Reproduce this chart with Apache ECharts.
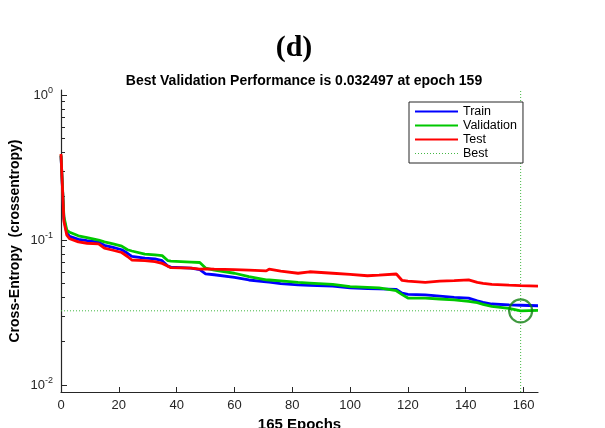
<!DOCTYPE html>
<html>
<head>
<meta charset="utf-8">
<script src="https://cdn.jsdelivr.net/npm/echarts@6/dist/echarts.min.js"></script>
<style>html,body{margin:0;padding:0;background:#fff;}#c{width:605px;height:428px;}</style>
</head>
<body>
<div id="c"></div>
<script>
const epochs = [0,1,2,3,6,9,13,15,18,21,23,24.5,29,32.5,35,37,38,45,48,50,53,60,65,71,72,76,82,86,94,100,106,110,116,118,120,126,131,136,141,144,146,149,155,159,165];
const train = [0.38,0.14,0.112,0.106,0.101,0.099,0.0966,0.092,0.089,0.0857,0.081,0.077,0.075,0.0742,0.072,0.066,0.065,0.064,0.0624,0.0584,0.0576,0.0553,0.053,0.0515,0.0512,0.050,0.049,0.0487,0.0481,0.0468,0.0463,0.046,0.0456,0.043,0.0422,0.0418,0.041,0.0402,0.0397,0.038,0.0371,0.0362,0.0357,0.0355,0.0352];
const validation = [0.385,0.145,0.117,0.113,0.107,0.104,0.100,0.097,0.094,0.0907,0.0857,0.084,0.080,0.079,0.078,0.072,0.0715,0.0705,0.070,0.064,0.062,0.059,0.056,0.0531,0.053,0.0522,0.051,0.0505,0.0495,0.0477,0.0472,0.0468,0.0447,0.042,0.0398,0.0397,0.0392,0.0387,0.0378,0.037,0.036,0.0349,0.0338,0.0325,0.0327];
const test = [0.392,0.135,0.108,0.102,0.097,0.095,0.094,0.088,0.085,0.082,0.077,0.0728,0.072,0.071,0.069,0.066,0.0645,0.064,0.063,0.0633,0.063,0.0625,0.062,0.0612,0.063,0.061,0.059,0.0604,0.059,0.0579,0.0567,0.0573,0.0583,0.0526,0.052,0.0511,0.052,0.0525,0.0531,0.051,0.0503,0.0495,0.0488,0.0484,0.0481];
const bestEpoch = 159;
const bestPerf = 0.032497;
const xTicks = [0,20,40,60,80,100,120,140,160];
const yMajor = [0.01,0.1,1];
const yMinor = [0.02,0.03,0.04,0.05,0.06,0.07,0.08,0.09,0.2,0.3,0.4,0.5,0.6,0.7,0.8,0.9];
const yMin = 0.00895, yMax = 1.083;
const xMax = 165;

const pairs = arr => epochs.map((e,i)=>[e,arr[i]]);
const FONT = 'Liberation Sans';
const AX = '#262626';
const BEST = '#45b845';
const bestLine = {color:BEST, width:1, type:[1,2]};
const bestGuides = [[0,bestPerf],[xMax,bestPerf],'-',[bestEpoch,yMin],[bestEpoch,yMax]];

const chart = echarts.init(document.getElementById('c'), null, {renderer:'canvas'});
chart.setOption({
  animation:false,
  backgroundColor:'#fff',
  title:[
    {text:'(d)', left:289, top:28, textAlign:'center',
     textStyle:{fontFamily:'Liberation Serif', fontWeight:'bold', fontSize:30, color:'#000'}},
    {text:'Best Validation Performance is 0.032497 at epoch 159', left:299, top:69, textAlign:'center',
     textStyle:{fontFamily:FONT, fontWeight:'bold', fontSize:14, color:'#000'}}
  ],
  grid:{left:61, right:67, top:90, bottom:36, containLabel:false, outerBoundsMode:'none'},
  legend:{
    data:['Train','Validation','Test',{name:'Best', itemStyle:{opacity:0}, lineStyle:bestLine}],
    orient:'vertical', left:409, top:102,
    backgroundColor:'#fff', borderColor:'#262626', borderWidth:1,
    padding:[3,6,3,5], itemWidth:43, itemHeight:10, itemGap:1,
    itemStyle:{opacity:0},
    textStyle:{fontFamily:FONT, fontSize:12.5, color:'#000'},
    selectedMode:false
  },
  xAxis:{
    type:'value', min:0, max:xMax, interval:20,
    name:'165 Epochs', nameLocation:'middle', nameGap:24,
    nameTextStyle:{fontFamily:FONT, fontWeight:'bold', fontSize:15, color:'#000'},
    axisLine:{lineStyle:{color:AX, width:1.2}},
    axisTick:{inside:true, length:5, lineStyle:{color:AX}, customValues:xTicks},
    axisLabel:{fontFamily:FONT, fontSize:13, color:AX, margin:7, customValues:xTicks},
    splitLine:{show:false}
  },
  yAxis:[{
    type:'log', logBase:10, min:yMin, max:yMax,
    name:'Cross-Entropy  (crossentropy)', nameLocation:'middle', nameGap:39, nameRotate:90,
    nameMoveOverlap:false,
    nameTextStyle:{fontFamily:FONT, fontWeight:'bold', fontSize:14, color:'#000'},
    axisLine:{lineStyle:{color:AX, width:1.2}},
    axisTick:{inside:true, length:6, lineStyle:{color:AX}, customValues:yMajor},
    axisLabel:{customValues:yMajor, margin:8,
      formatter:v=>'{b|10}{s|'+Math.round(Math.log10(v))+'}',
      rich:{b:{fontFamily:FONT,fontSize:13,color:AX},
            s:{fontFamily:FONT,fontSize:9,color:AX,padding:[0,0,9,0]}}},
    splitLine:{show:false}
  },{
    type:'log', logBase:10, min:yMin, max:yMax, position:'left',
    axisLine:{show:false},
    axisTick:{inside:true, length:4, lineStyle:{color:AX}, customValues:yMinor},
    axisLabel:{show:false},
    splitLine:{show:false}
  }],
  series:[
    {name:'Best', type:'line', data:bestGuides, symbol:'none', connectNulls:false,
     lineStyle:bestLine, itemStyle:{color:BEST}, color:BEST, z:2, silent:true},
    {name:'Train', type:'line', data:pairs(train), symbol:'none', lineStyle:{color:'#0000ff', width:2.8}, itemStyle:{color:'#0000ff'}, z:3},
    {name:'Validation', type:'line', data:pairs(validation), symbol:'none', lineStyle:{color:'#00c800', width:2.8}, itemStyle:{color:'#00c800'}, z:4},
    {name:'Test', type:'line', data:pairs(test), symbol:'none', lineStyle:{color:'#ff0000', width:2.8}, itemStyle:{color:'#ff0000'}, z:5},
    {name:'BestPoint', type:'scatter', data:[[bestEpoch,bestPerf]], symbol:'circle', symbolSize:23,
     itemStyle:{color:'rgba(0,0,0,0)', borderColor:'#0f800f', borderWidth:2.2}, z:6, silent:true}
  ]
});
</script>
</body>
</html>
